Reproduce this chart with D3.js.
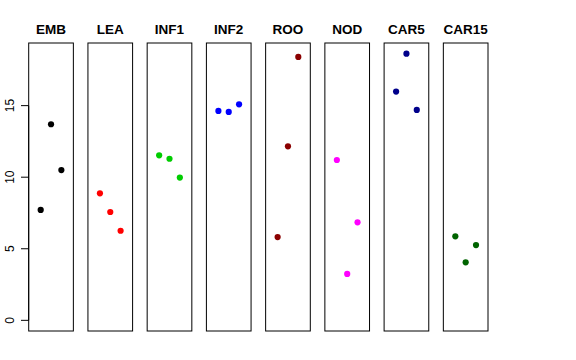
<!DOCTYPE html>
<html>
<head>
<meta charset="utf-8">
<script src="https://cdn.jsdelivr.net/npm/d3@7"></script>
<style>
html,body{margin:0;padding:0;background:#fff;}
svg{display:block;font-family:"Liberation Sans",Arial,Helvetica,sans-serif;}
</style>
</head>
<body>
<svg id="chart" width="576" height="360"></svg>
<script>
const categories = ["EMB","LEA","INF1","INF2","ROO","NOD","CAR5","CAR15"];
const colors = ["#000000","#FF0000","#00CD00","#0000FF","#8B0000","#FF00FF","#00008B","#006400"];
const EMB = [7.71, 13.70, 10.50];
const LEA = [8.87, 7.57, 6.26];
const INF1 = [11.53, 11.29, 9.97];
const INF2 = [14.63, 14.56, 15.09];
const ROO = [5.82, 12.16, 18.40];
const NOD = [11.20, 3.24, 6.85];
const CAR5 = [15.98, 18.63, 14.70];
const CAR15 = [5.87, 4.05, 5.26];
const seriesValues = [EMB, LEA, INF1, INF2, ROO, NOD, CAR5, CAR15];
const yTicks = [0, 5, 10, 15];

(function () {
const svg = d3.select("#chart");
const plotTop = 43, plotBottom = 331;

const xBand = d3.scaleBand().domain(categories).range([28.7, 488]).paddingInner(0.246).paddingOuter(0);
const bw = xBand.bandwidth();
const yMax = d3.max(seriesValues.flat());
const y = d3.scaleLinear().domain([-0.04 * yMax, yMax * 1.04]).range([plotBottom, plotTop]);
const xIn = d3.scaleLinear().domain([-0.16, 4.16]).range([0, bw]);

categories.forEach((c, i) => {
  const g = svg.append("g").attr("transform", `translate(${xBand(c)},0)`);
  g.append("rect")
    .attr("x", 0).attr("y", plotTop).attr("width", bw).attr("height", plotBottom - plotTop)
    .attr("fill", "none").attr("stroke", "#000").attr("stroke-width", 1);
  g.selectAll("circle").data(seriesValues[i]).enter().append("circle")
    .attr("cx", (d, j) => xIn(j + 1))
    .attr("cy", d => y(d))
    .attr("r", 3.1)
    .attr("fill", colors[i]);
  g.append("text")
    .attr("x", bw / 2).attr("y", 34)
    .attr("text-anchor", "middle")
    .attr("font-weight", "bold")
    .attr("font-size", "13.5px")
    .text(c);
});

// y axis
const ax = svg.append("g").attr("transform", `translate(${xBand(categories[0])},0)`);
ax.append("line")
  .attr("x1", 0).attr("x2", 0)
  .attr("y1", y(yTicks[0])).attr("y2", y(yTicks[yTicks.length - 1]))
  .attr("stroke", "#000");
ax.selectAll("line.tick").data(yTicks).enter().append("line")
  .attr("class", "tick")
  .attr("x1", 0).attr("x2", -7.7)
  .attr("y1", d => y(d)).attr("y2", d => y(d))
  .attr("stroke", "#000");
ax.selectAll("text").data(yTicks).enter().append("text")
  .attr("transform", d => `translate(-14.7,${y(d)}) rotate(-90)`)
  .attr("text-anchor", "middle")
  .attr("font-size", "12px")
  .text(d => d);
})();
</script>
</body>
</html>
